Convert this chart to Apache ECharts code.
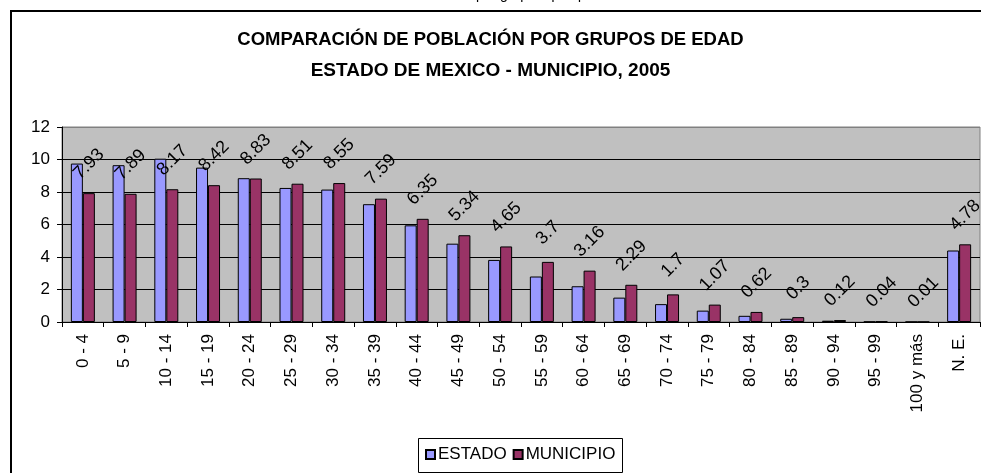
<!DOCTYPE html>
<html>
<head>
<meta charset="utf-8">
<script src="https://cdn.jsdelivr.net/npm/echarts@6/dist/echarts.min.js"></script>
<style>
  html, body { margin: 0; padding: 0; background: #fff; }
  #chart { width: 981px; height: 473px; }
</style>
</head>
<body>
<div id="chart"></div>
<script>
// grupos de edad
var grupos = ['0 - 4', '5 - 9', '10 - 14', '15 - 19', '20 - 24', '25 - 29', '30 - 34',
    '35 - 39', '40 - 44', '45 - 49', '50 - 54', '55 - 59', '60 - 64', '65 - 69',
    '70 - 74', '75 - 79', '80 - 84', '85 - 89', '90 - 94', '95 - 99', '100 y más', 'N. E.'];

// porcentajes
var estado = [9.75, 9.65, 10.05, 9.5, 8.85, 8.25, 8.15, 7.25, 5.95, 4.82, 3.82, 2.8, 2.2,
    1.5, 1.1, 0.7, 0.38, 0.2, 0.08, 0.02, 0.01, 4.4];
var municipio = [7.93, 7.89, 8.17, 8.42, 8.83, 8.51, 8.55, 7.59, 6.35, 5.34, 4.65, 3.7, 3.16,
    2.29, 1.7, 1.07, 0.62, 0.3, 0.12, 0.04, 0.01, 4.78];

var titulo1 = 'COMPARACIÓN DE POBLACIÓN POR GRUPOS DE EDAD';
var titulo2 = 'ESTADO DE MEXICO - MUNICIPIO, 2005';

var FUENTE = 'Arial, "Liberation Sans", sans-serif';

var chart = echarts.init(document.getElementById('chart'), null, { renderer: 'canvas' });

chart.setOption({
    backgroundColor: '#fff',
    animation: false,
    textStyle: { fontFamily: FUENTE, color: '#000' },
    title: [
        { text: titulo1, left: 'center', top: 30, padding: 0,
          textStyle: { fontFamily: FUENTE, fontSize: 18.5, fontWeight: 'bold', color: '#000' } },
        { text: titulo2, left: 'center', top: 61, padding: 0,
          textStyle: { fontFamily: FUENTE, fontSize: 19, fontWeight: 'bold', color: '#000' } }
    ],
    graphic: [
        // marco exterior
        { type: 'rect', shape: { x: 11, y: 11, width: 1000, height: 500 },
          style: { fill: 'none', stroke: '#000', lineWidth: 2 }, z: 100 },
        // texto cortado arriba
        { type: 'text', left: 476, top: -12,
          style: { text: 'por grupos quinquenales', font: '14px ' + FUENTE, fill: '#000' } },
        // caja de la leyenda
        { type: 'rect', shape: { x: 418.5, y: 438.5, width: 204, height: 34 },
          style: { fill: '#fff', stroke: '#000', lineWidth: 1 }, z: 0 }
    ],
    legend: {
        left: 425,
        top: 446,
        itemWidth: 9,
        itemHeight: 9,
        itemGap: 6,
        icon: 'rect',
        padding: 0,
        textStyle: { fontFamily: FUENTE, fontSize: 17, color: '#000', padding: [0, 0, 0, -2] },
        data: ['ESTADO', 'MUNICIPIO'],
        z: 10
    },
    grid: {
        left: 62,
        right: 1,
        top: 127,
        bottom: 151,
        show: true,
        backgroundColor: '#C0C0C0',
        borderColor: '#808080',
        borderWidth: 1
    },
    xAxis: {
        type: 'category',
        data: grupos,
        axisLine: { lineStyle: { color: '#000', width: 1 } },
        axisTick: { show: true, alignWithLabel: false, length: 5, lineStyle: { color: '#000' } },
        axisLabel: { rotate: 90, fontSize: 17, color: '#000', margin: 12, interval: 0, fontFamily: FUENTE }
    },
    yAxis: {
        type: 'value',
        min: 0,
        max: 12,
        interval: 2,
        axisLine: { show: true, lineStyle: { color: '#000', width: 1 } },
        axisTick: { show: true, length: 5, lineStyle: { color: '#000' } },
        axisLabel: { fontSize: 17, color: '#000', margin: 12, fontFamily: FUENTE },
        splitLine: { show: true, lineStyle: { color: ['#000', '#000', '#000', '#000', '#000', '#000', '#808080'], width: 1 } }
    },
    series: [
        {
            name: 'ESTADO',
            type: 'bar',
            data: estado,
            barWidth: 12,
            barGap: '0%',
            itemStyle: { color: '#9999FF', borderColor: '#000', borderWidth: 1 }
        },
        {
            name: 'MUNICIPIO',
            type: 'bar',
            data: municipio,
            barWidth: 12,
            itemStyle: { color: '#993366', borderColor: '#000', borderWidth: 1 },
            label: {
                show: true,
                position: 'top',
                distance: 29,
                rotate: 45,
                align: 'center',
                verticalAlign: 'middle',
                fontSize: 18,
                color: '#000',
                fontFamily: FUENTE
            }
        }
    ]
});
</script>
</body>
</html>
